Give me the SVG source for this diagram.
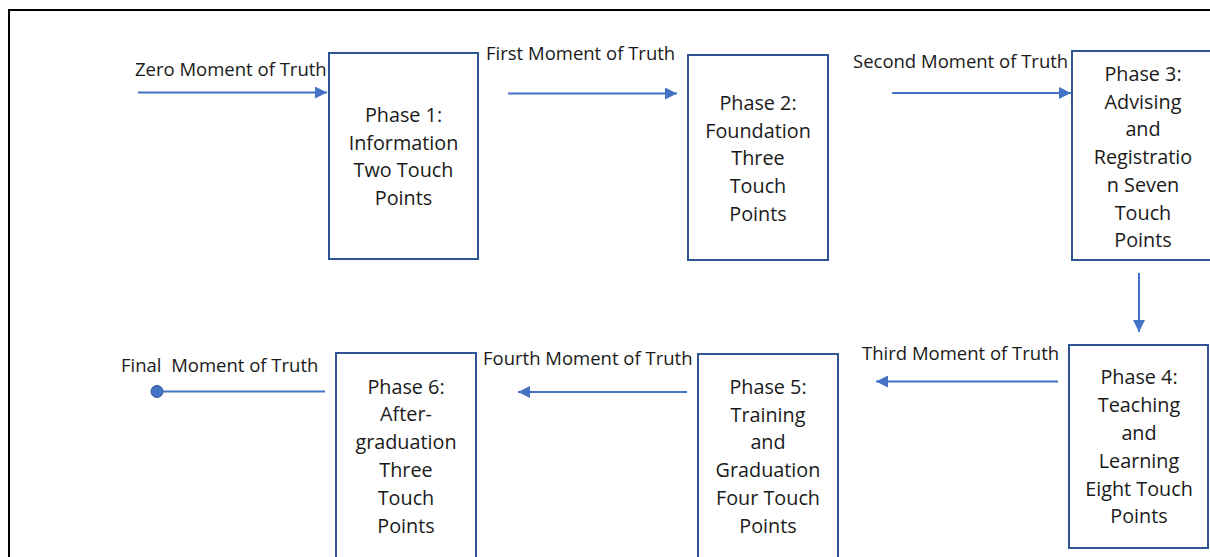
<svg xmlns="http://www.w3.org/2000/svg" width="1210" height="557" viewBox="0 0 1210 557">
<style>
.frame{fill:none;stroke:#000;stroke-width:2}
.box{fill:#fff;stroke:#2F5597;stroke-width:2}
.t{font-family:"Open Sans","Liberation Sans",sans-serif;font-size:19.8px;fill:#1a1a1a;text-anchor:middle}
.lbl{font-family:"Open Sans","Liberation Sans",sans-serif;font-size:18.5px;fill:#1a1a1a}
.conn{stroke:#4472C4;stroke-width:2;fill:none}
</style>
<defs>
<marker id="ah" viewBox="0 0 10 10" refX="10" refY="5" markerWidth="6" markerHeight="6" orient="auto" markerUnits="strokeWidth">
<path d="M0,0 L10,5 L0,10 z" fill="#4472C4"/>
</marker>
</defs>
<rect width="1210" height="557" fill="#fff"/>
<path class="frame" d="M9,600 V10 H1220"/>

<g id="connectors">
<line class="conn" x1="138" y1="92.5" x2="327" y2="92.5" marker-end="url(#ah)"/>
<line class="conn" x1="508" y1="93.5" x2="677" y2="93.5" marker-end="url(#ah)"/>
<line class="conn" x1="892" y1="93" x2="1071" y2="93" marker-end="url(#ah)"/>
<line class="conn" x1="1139" y1="273" x2="1139" y2="332" stroke-width="1.5" marker-end="url(#ah)"/>
<line class="conn" x1="1058" y1="381.5" x2="876" y2="381.5" marker-end="url(#ah)"/>
<line class="conn" x1="687" y1="392" x2="518" y2="392" stroke-width="2.5" marker-end="url(#ah)"/>
<line class="conn" x1="325" y1="391.5" x2="157" y2="391.5"/>
<circle cx="157" cy="391.5" r="6" fill="#4472C4" stroke="#2F5597" stroke-width="1"/>
<text class="lbl" x="135" y="76">Zero Moment of Truth</text>
<text class="lbl" x="486" y="60">First Moment of Truth</text>
<text class="lbl" x="853" y="68">Second Moment of Truth</text>
<text class="lbl" x="862" y="360">Third Moment of Truth</text>
<text class="lbl" x="483" y="365">Fourth Moment of Truth</text>
<text class="lbl" x="121" y="372" xml:space="preserve">Final  Moment of Truth</text>
</g>

<g id="phase1">
<rect class="box" x="329" y="53" width="149" height="206"/>
<text class="t" x="403.5" y="122">Phase 1:</text>
<text class="t" x="403.5" y="149.5">Information</text>
<text class="t" x="403.5" y="177">Two Touch</text>
<text class="t" x="403.5" y="204.5">Points</text>
</g>
<g id="phase2">
<rect class="box" x="688" y="55" width="140" height="205"/>
<text class="t" x="758" y="110">Phase 2:</text>
<text class="t" x="758" y="137.5">Foundation</text>
<text class="t" x="758" y="165">Three</text>
<text class="t" x="758" y="193">Touch</text>
<text class="t" x="758" y="220.5">Points</text>
</g>
<g id="phase3">
<rect class="box" x="1072" y="51" width="142" height="209"/>
<text class="t" x="1143" y="81">Phase 3:</text>
<text class="t" x="1143" y="108.5">Advising</text>
<text class="t" x="1143" y="136">and</text>
<text class="t" x="1143" y="164">Registratio</text>
<text class="t" x="1143" y="192">n Seven</text>
<text class="t" x="1143" y="219.5">Touch</text>
<text class="t" x="1143" y="247">Points</text>
</g>
<g id="phase4">
<rect class="box" x="1069" y="345" width="139" height="203"/>
<text class="t" x="1139" y="384">Phase 4:</text>
<text class="t" x="1139" y="412">Teaching</text>
<text class="t" x="1139" y="440">and</text>
<text class="t" x="1139" y="468">Learning</text>
<text class="t" x="1139" y="496">Eight Touch</text>
<text class="t" x="1139" y="523">Points</text>
</g>
<g id="phase5">
<rect class="box" x="698" y="354" width="140" height="220"/>
<text class="t" x="768" y="394">Phase 5:</text>
<text class="t" x="768" y="421.5">Training</text>
<text class="t" x="768" y="449">and</text>
<text class="t" x="768" y="477">Graduation</text>
<text class="t" x="768" y="505">Four Touch</text>
<text class="t" x="768" y="532.5">Points</text>
</g>
<g id="phase6">
<rect class="box" x="336" y="353" width="140" height="220"/>
<text class="t" x="406" y="393.5">Phase 6:</text>
<text class="t" x="406" y="421">After-</text>
<text class="t" x="406" y="449">graduation</text>
<text class="t" x="406" y="477">Three</text>
<text class="t" x="406" y="505">Touch</text>
<text class="t" x="406" y="533">Points</text>
</g>
</svg>
